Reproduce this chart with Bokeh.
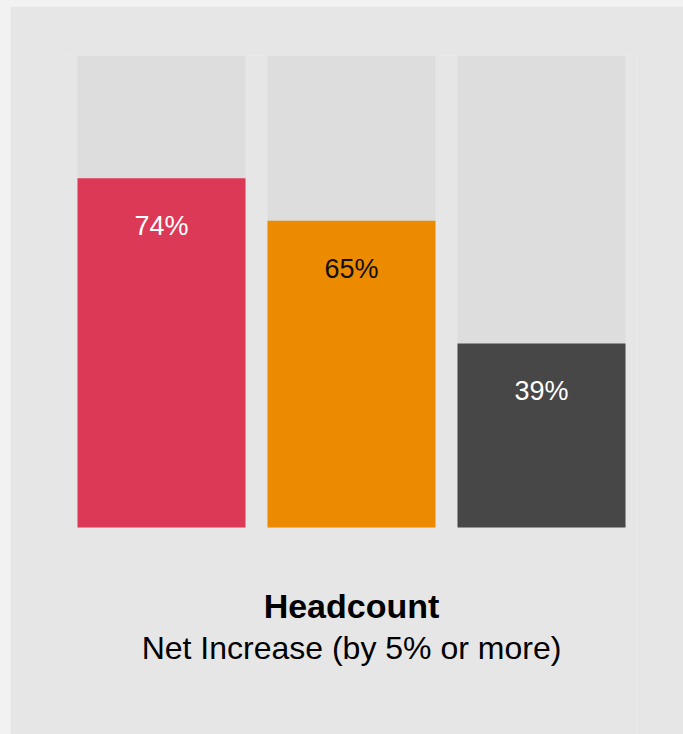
from bokeh.plotting import figure
from bokeh.models import Range1d, Label, ColumnDataSource, GlobalInlineStyleSheet
from bokeh.core.properties import value
from bokeh.embed import file_html
from bokeh.resources import INLINE

# ---- data ----
categories = ["A", "B", "C"]
values = [74, 65, 39]
full = [100, 100, 100]
labels = ["74%", "65%", "39%"]
bar_colors = ["#DB3956", "#EC8A00", "#474747"]
label_colors = ["#ffffff", "#111111", "#ffffff"]
title_text = "Headcount"
subtitle_text = "Net Increase (by 5% or more)"

FONT = "Liberation Sans"
PX = 472 / 100  # pixels per percentage point
BOTTOM_PX = 207  # area below the bars, inside the frame

src = ColumnDataSource(dict(cat=categories, val=values, full=full,
                            lab=labels, col=bar_colors, lcol=label_colors))

p = figure(x_range=categories, y_range=Range1d(-BOTTOM_PX / PX, 100),
           width=673, height=728, output_backend="svg", toolbar_location=None,
           min_border_left=56, min_border_right=47,
           min_border_top=49, min_border_bottom=0)
p.x_range.range_padding = 0
p.background_fill_color = "#e6e6e6"
p.border_fill_color = "#e6e6e6"
p.outline_line_color = None
p.xgrid.visible = False
p.ygrid.visible = False
p.xaxis.visible = False
p.yaxis.visible = False

p.vbar(x="cat", bottom=0, top="full", width=168/190, source=src, color="#dddddd", line_color=None)
p.vbar(x="cat", bottom=0, top="val", width=168/190, source=src, color="col", line_color=None)
p.text(x="cat", y="val", text="lab", source=src, text_color="lcol",
       text_align="center", text_baseline="alphabetic", y_offset=48,
       text_font=value(FONT), text_font_size="27px")

p.add_layout(Label(x=285, x_units="screen", y=-(90 - 12) / PX, text=title_text,
                   text_align="center", text_baseline="alphabetic",
                   text_font=FONT, text_font_size="34px", text_font_style="bold",
                   text_color="#000000"))
p.add_layout(Label(x=285, x_units="screen", y=-(132 - 12) / PX, text=subtitle_text,
                   text_align="center", text_baseline="alphabetic",
                   text_font=FONT, text_font_size="32px",
                   text_color="#000000"))

p.stylesheets = [GlobalInlineStyleSheet(css="body { background: #f2f2f2; margin: 6px 0 0 10px; }")]

open("out.html", "w").write(file_html(p, INLINE))
